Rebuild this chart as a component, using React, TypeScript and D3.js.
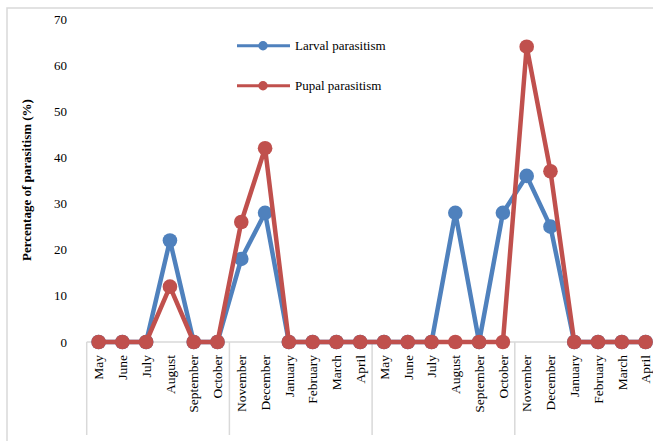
import React from "react";
import * as d3 from "d3";

const months = [
  "May", "June", "July", "August", "September", "October",
  "November", "December", "January", "February", "March", "April",
  "May", "June", "July", "August", "September", "October",
  "November", "December", "January", "February", "March", "April",
];
const larval = [0, 0, 0, 22, 0, 0, 18, 28, 0, 0, 0, 0, 0, 0, 0, 28, 0, 28, 36, 25, 0, 0, 0, 0];
const pupal = [0, 0, 0, 12, 0, 0, 26, 42, 0, 0, 0, 0, 0, 0, 0, 0, 0, 0, 64, 37, 0, 0, 0, 0];
const yTicks = [0, 10, 20, 30, 40, 50, 60, 70];
const seriesNames = ["Larval parasitism", "Pupal parasitism"];
const groupSize = 6;

const W = 653;
const H = 441;
const BLUE = "#4F81BD";
const RED = "#C0504D";
const GRID = "#D9D9D9";
const FONT = "Liberation Serif, Times New Roman, Times, serif";
const ts: React.CSSProperties = { fontFamily: FONT };

export default function App() {
  const idx = months.map((_, i) => i);
  const x = d3.scaleBand<number>().domain(idx).range([86.7, 657.5]).padding(0);
  const y = d3.scaleLinear().domain([0, 70]).range([342, 19]);
  const cx = (i: number) => (x(i) as number) + x.bandwidth() / 2;
  const line = d3
    .line<number>()
    .x((_, i) => cx(i))
    .y((d) => y(d));

  const separators: number[] = [];
  for (let g = 0; g <= months.length; g += groupSize) {
    separators.push(g === months.length ? 657.5 : (x(g) as number));
  }

  const series = [
    { name: seriesNames[0], data: larval, color: BLUE },
    { name: seriesNames[1], data: pupal, color: RED },
  ];

  return (
    <svg
      width={W}
      height={H}
      style={{ position: "absolute", left: 0, top: 0, background: "#fff", fontFamily: FONT }}
    >
      <rect x={7} y={8} width={W + 20} height={H + 20} fill="#fff" stroke={GRID} strokeWidth={1.5} />

      {/* axis line */}
      <line x1={86.7} x2={660} y1={y(0)} y2={y(0)} stroke={GRID} strokeWidth={1.5} />
      {separators.map((s, i) => (
        <line key={i} x1={s} x2={s} y1={y(0)} y2={435} stroke={GRID} strokeWidth={1.5} />
      ))}

      {/* y ticks */}
      {yTicks.map((t) => (
        <text key={t} x={67} y={y(t)} dy="0.35em" textAnchor="end" fontSize={13} fill="#000" style={ts}>
          {t}
        </text>
      ))}

      <text
        transform={`translate(26,180) rotate(-90)`}
        textAnchor="middle"
        dy="0.35em"
        fontSize={13}
        fontWeight="bold"
        fill="#000"
        style={ts}
      >
        Percentage of parasitism (%)
      </text>

      {/* x labels */}
      {months.map((m, i) => (
        <text
          key={i}
          transform={`translate(${cx(i)},355) rotate(-90)`}
          textAnchor="end"
          dy="0.35em"
          fontSize={13.5}
          fill="#000"
          style={ts}
        >
          {m}
        </text>
      ))}

      {/* series */}
      {series.map((s) => (
        <g key={s.name}>
          <path d={line(s.data) || ""} fill="none" stroke={s.color} strokeWidth={4.5} strokeLinejoin="round" />
          {s.data.map((d, i) => (
            <circle key={i} cx={cx(i)} cy={y(d)} r={7.3} fill={s.color} />
          ))}
        </g>
      ))}

      {/* legend */}
      {series.map((s, i) => {
        const ly = 45.7 + i * 40;
        return (
          <g key={s.name}>
            <line x1={237} x2={290} y1={ly} y2={ly} stroke={s.color} strokeWidth={3} />
            <circle cx={263} cy={ly} r={4.7} fill={s.color} />
            <text x={295} y={ly} dy="0.35em" fontSize={13} fill="#000" style={ts}>
              {s.name}
            </text>
          </g>
        );
      })}
    </svg>
  );
}
